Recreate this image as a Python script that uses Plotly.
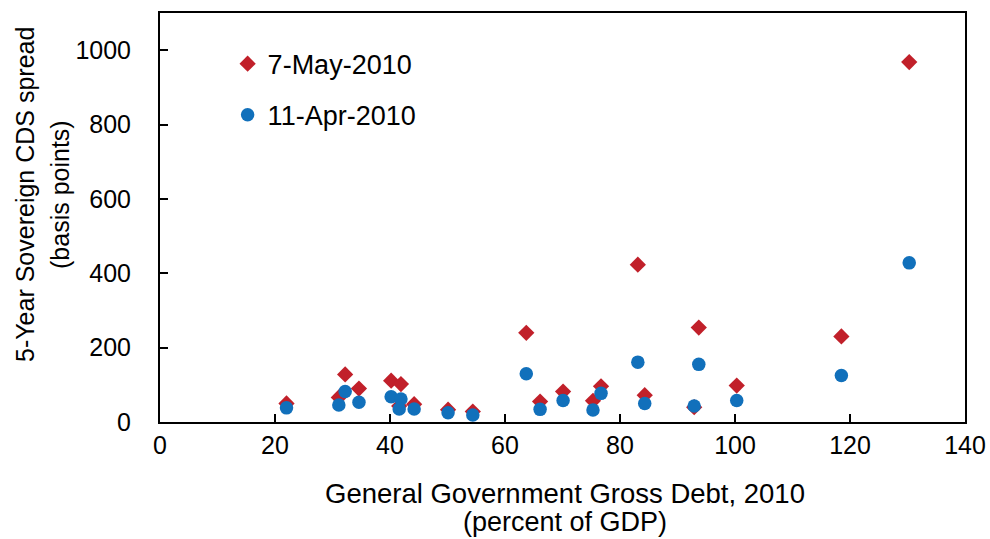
import plotly.graph_objects as go

debt = [22.0, 31.1, 32.2, 34.6, 40.2, 41.9, 41.6, 44.2, 50.1, 54.4, 63.7, 66.1,
        70.1, 75.3, 76.7, 83.1, 84.3, 92.9, 93.7, 100.3, 118.5, 130.3]
may7 = [50, 66, 128, 90, 111, 102, 43, 48, 33, 28, 240, 55,
        82, 57, 96, 423, 72, 40, 254, 98, 230, 968]
apr11 = [38, 46, 82, 53, 68, 62, 35, 35, 25, 19, 130, 34,
         58, 32, 77, 161, 50, 43, 155, 58, 125, 428]

x_title = ["General Government Gross Debt, 2010", "(percent of GDP)"]
y_title = ["5-Year Sovereign CDS spread", "(basis points)"]

RED = "#C1202A"
BLUE = "#1170BB"
FONT = "Liberation Sans, Arial, sans-serif"

W, H = 990, 539
L, R, T, B = 160, 25, 13, 117
PW, PH = W - L - R, H - T - B

fig = go.Figure()
fig.add_trace(go.Scatter(x=debt, y=may7, mode="markers", name="7-May-2010",
                         legendgroup="a",
                         marker=dict(symbol="diamond", size=12.5, color=RED)))
fig.add_trace(go.Scatter(x=debt, y=apr11, mode="markers", name="11-Apr-2010",
                         legendgroup="b",
                         marker=dict(symbol="circle", size=13.5, color=BLUE)))

axis_common = dict(showgrid=False, zeroline=False, showline=True, linecolor="black",
                   linewidth=2, mirror=True, ticks="inside", ticklen=8, tickwidth=2,
                   tickcolor="black", automargin=False,
                   tickfont=dict(size=25, color="black", family=FONT))

def px_x(px):
    return (px - L) / PW

def px_y(py):
    return 1 - (py - T) / PH

annotations = [
    dict(text=x_title[0], x=px_x(565), y=px_y(493), xref="paper", yref="paper",
         showarrow=False, xanchor="center", yanchor="middle",
         font=dict(size=27.5, family=FONT, color="black")),
    dict(text=x_title[1], x=px_x(565), y=px_y(522), xref="paper", yref="paper",
         showarrow=False, xanchor="center", yanchor="middle",
         font=dict(size=27, family=FONT, color="black")),
    dict(text=y_title[0], x=px_x(25), y=px_y(195), xref="paper", yref="paper",
         showarrow=False, xanchor="center", yanchor="middle", textangle=-90,
         font=dict(size=25, family=FONT, color="black")),
    dict(text=y_title[1], x=px_x(60), y=px_y(195), xref="paper", yref="paper",
         showarrow=False, xanchor="center", yanchor="middle", textangle=-90,
         font=dict(size=25, family=FONT, color="black")),
]

fig.update_layout(
    width=W, height=H,
    margin=dict(l=L, r=R, t=T, b=B),
    plot_bgcolor="white", paper_bgcolor="white",
    font=dict(family=FONT, color="black"),
    showlegend=True,
    legend=dict(x=0.084, y=0.935, xanchor="left", yanchor="top",
                font=dict(size=27, family=FONT, color="black"),
                bgcolor="rgba(0,0,0,0)", tracegroupgap=13, itemwidth=30),
    xaxis=dict(range=[0, 140], dtick=20, **axis_common),
    yaxis=dict(range=[0, 1100], tickvals=[0, 200, 400, 600, 800, 1000],
               ticklabelstandoff=22, **axis_common),
    annotations=annotations,
)

fig.write_html("out.html")
